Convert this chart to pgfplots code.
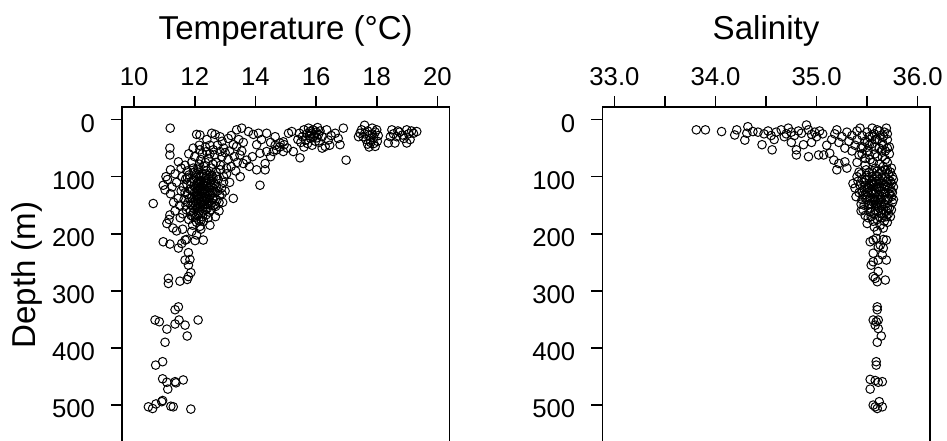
\documentclass[border=0pt]{standalone}
\usepackage{fontspec}
\setmainfont{Liberation Sans}
\usepackage{pgfplots}
\usepackage{pgfplotstable}
\pgfplotsset{compat=1.18}

\pgfplotstableread[row sep=\\]{
T D\\
11.19 15\\ 12.06 26\\ 12.17 27\\ 12.56 24\\ 12.67 26\\ 12.83 30\\ 13.38 18\\ 13.55 15\\ 13.77 21\\ 13.93 26\\
14.10 24\\ 14.37 24\\ 14.65 30\\ 14.92 39\\ 15.09 24\\ 12.9 38\\ 13.1 33\\ 13.45 35\\ 13.6 40\\ 12.4 35\\ 14.2 35\\ 14.5 40\\ 13.2 28\\
11.18 50\\ 11.18 62\\ 11.46 74\\ 11.68 80\\ 12.17 53\\ 12.39 56\\ 12.61 53\\ 12.83 56\\ 13.27 44\\ 13.38 47\\
13.49 62\\ 13.71 71\\ 13.6 77\\ 14.04 44\\ 14.15 59\\ 14.37 56\\ 14.59 56\\ 14.7 53\\ 14.92 56\\ 14.04 88\\
14.32 88\\ 14.32 77\\ 14.15 115\\ 13.27 138\\ 12.0 65\\ 12.2 70\\ 12.45 68\\ 12.7 75\\ 12.9 65\\ 13.1 70\\
13.2 82\\ 12.55 85\\ 12.85 88\\ 13.05 95\\ 13.35 90\\ 12.3 82\\ 11.9 75\\ 12.1 85\\ 13.5 100\\ 13.15 110\\
12.95 100\\ 13.8 82\\ 12.65 62\\ 13.0 58\\ 12.25 60\\ 11.8 60\\ 11.55 85\\ 11.35 95\\ 11.2 88\\ 11.05 100\\
13.55 55\\ 13.9 65\\ 14.5 65\\ 14.8 48\\ 15.05 50\\ 15.25 56\\ 15.47 67\\ 14.81 41\\ 14.95 44\\ 14.65 45\\
11.95 50\\ 12.15 45\\ 12.35 48\\ 12.5 45\\ 12.75 45\\ 12.95 50\\ 13.15 55\\ 13.3 65\\ 12.05 95\\ 12.4 98\\
12.7 92\\ 12.85 80\\ 12.6 78\\ 12.35 75\\ 12.15 78\\ 11.95 85\\ 11.75 90\\ 13.05 85\\ 13.4 75\\ 12.5 60\\
11.62 118\\ 11.70 104\\ 11.75 131\\ 11.78 145\\ 11.81 97\\ 11.84 122\\ 11.86 160\\ 11.88 109\\ 11.90 137\\ 11.92 151\\
11.95 93\\ 11.97 116\\ 11.99 128\\ 12.01 142\\ 12.02 171\\ 12.04 101\\ 12.05 134\\ 12.07 156\\ 12.08 112\\ 12.10 124\\
12.11 147\\ 12.12 165\\ 12.14 96\\ 12.15 139\\ 12.16 119\\ 12.18 130\\ 12.19 153\\ 12.20 107\\ 12.21 176\\ 12.23 126\\
12.24 143\\ 12.25 113\\ 12.27 160\\ 12.28 135\\ 12.30 99\\ 12.31 121\\ 12.33 149\\ 12.34 130\\ 12.36 108\\ 12.37 167\\
12.39 140\\ 12.40 117\\ 12.42 155\\ 12.44 127\\ 12.46 104\\ 12.47 145\\ 12.49 133\\ 12.51 114\\ 12.53 158\\ 12.55 124\\
12.57 98\\ 12.59 139\\ 12.62 110\\ 12.64 150\\ 12.67 128\\ 12.70 117\\ 12.73 141\\ 12.77 105\\ 12.82 132\\ 12.88 120\\
11.65 140\\ 11.72 158\\ 11.80 175\\ 11.93 185\\ 12.06 180\\ 12.17 187\\ 12.29 178\\ 11.88 168\\ 12.00 92\\ 12.12 88\\
12.26 94\\ 12.38 90\\ 12.50 95\\ 12.60 102\\ 12.95 110\\ 13.0 125\\ 12.92 145\\ 12.80 160\\ 12.68 170\\ 11.55 125\\
11.50 150\\ 11.58 100\\ 11.45 138\\ 11.40 110\\ 11.60 165\\ 11.52 172\\ 12.09 121\\ 12.13 133\\ 12.22 117\\ 12.32 143\\
12.18 100\\ 12.03 150\\ 11.96 162\\ 12.44 172\\ 12.41 111\\ 12.56 146\\
11.74 113\\ 11.83 138\\ 11.91 125\\ 11.98 104\\ 12.03 118\\ 12.06 146\\ 12.09 131\\ 12.13 108\\ 12.16 160\\ 12.19 122\\
12.22 137\\ 12.26 150\\ 12.29 115\\ 12.32 128\\ 12.35 102\\ 12.38 135\\ 12.41 148\\ 12.45 120\\ 12.48 162\\ 12.52 131\\
12.58 119\\ 12.63 137\\ 12.69 152\\ 12.75 125\\ 11.87 150\\ 11.94 170\\ 12.0 135\\ 12.07 168\\ 12.14 177\\ 12.25 170\\
12.35 157\\ 12.43 138\\ 12.54 108\\ 12.66 113\\ 12.72 99\\ 11.76 102\\ 11.68 128\\ 11.71 150\\ 12.1 140\\ 12.2 145\\
12.3 110\\ 12.4 124\\ 12.05 126\\ 12.27 124\\ 12.17 113\\ 11.95 145\\ 12.5 150\\ 12.6 128\\ 12.8 145\\ 12.9 130\\
10.96 115\\ 11.02 123\\ 11.1 105\\ 11.2 130\\ 11.25 118\\ 11.3 145\\ 11.35 160\\ 11.15 175\\ 11.18 167\\ 11.08 182\\
11.28 190\\ 10.63 147\\ 11.4 195\\ 11.6 192\\ 11.9 196\\ 12.2 192\\ 12.5 185\\
15.2 21\\ 15.45 24\\ 15.55 30\\ 15.6 18\\ 15.65 36\\ 15.7 25\\ 15.72 42\\ 15.75 15\\ 15.78 28\\ 15.8 21\\
15.82 33\\ 15.85 24\\ 15.87 45\\ 15.9 18\\ 15.92 30\\ 15.95 27\\ 15.98 38\\ 16.0 22\\ 16.03 32\\ 16.05 14\\
16.08 26\\ 16.1 40\\ 16.13 20\\ 16.2 30\\ 15.5 40\\ 15.6 48\\ 16.35 18\\ 16.63 24\\ 16.9 15\\ 16.73 33\\
16.79 44\\ 16.4 36\\ 16.3 47\\ 16.99 71\\ 16.5 28\\ 16.45 45\\ 16.2 50\\ 15.4 35\\
17.6 10\\ 18.0 18\\ 17.45 24\\ 17.78 36\\ 17.95 47\\ 17.5 18\\ 17.7 20\\ 17.75 28\\ 17.85 25\\ 17.9 32\\
17.8 40\\ 17.7 43\\ 17.65 35\\ 17.55 30\\ 18.05 28\\ 17.95 22\\ 17.85 15\\ 17.75 48\\ 17.9 42\\ 18.02 38\\
17.6 25\\ 17.4 30\\
18.5 18\\ 18.66 30\\ 18.99 18\\ 19.21 24\\ 19.32 21\\ 18.99 41\\ 18.38 41\\ 18.6 41\\ 18.55 25\\ 18.75 22\\
18.85 27\\ 18.9 33\\ 19.05 25\\ 19.15 20\\ 18.45 30\\ 19.1 35\\ 18.7 20\\
10.96 214\\ 11.18 218\\ 11.46 225\\ 11.57 217\\ 11.68 211\\ 12.01 212\\ 12.28 211\\ 12.06 202\\ 11.73 210\\
11.79 233\\ 11.68 246\\ 11.84 245\\ 11.79 255\\ 11.87 268\\ 11.13 278\\ 11.13 287\\ 11.51 283\\ 11.75 280\\ 11.79 275\\
11.35 333\\ 11.46 328\\ 10.69 351\\ 10.83 354\\ 11.08 367\\ 11.35 358\\ 11.48 351\\ 11.68 360\\ 11.75 379\\ 12.11 351\\
11.02 390\\ 10.71 430\\ 10.94 424\\ 10.94 454\\ 11.08 460\\ 11.35 459\\ 11.38 461\\ 11.62 456\\ 11.11 472\\
10.47 503\\ 10.61 506\\ 10.72 498\\ 10.91 494\\ 10.94 492\\ 11.21 502\\ 11.29 503\\ 11.87 507\\
}\tempdata

\pgfplotstableread[row sep=\\]{
S D\\
33.81 18\\ 33.90 18\\ 34.06 21\\ 34.21 18\\ 34.19 27\\ 34.32 12.5\\ 34.29 36\\ 34.31 24\\ 34.37 21\\ 34.46 44\\
34.56 53\\ 34.42 22\\ 34.48 25\\ 34.52 20\\ 34.55 28\\ 34.6 22\\ 34.65 18\\ 34.7 25\\ 34.72 15\\ 34.75 22\\
34.78 28\\ 34.82 20\\ 34.85 24\\ 34.9 9.5\\ 34.92 18\\ 34.95 26\\ 34.98 22\\ 35.0 30\\ 35.03 20\\ 35.06 25\\
34.68 30\\ 34.58 35\\ 34.8 53\\ 34.8 62\\ 34.92 65\\ 34.87 44\\ 34.75 40\\ 34.95 40\\ 35.02 62\\ 35.07 62\\
35.13 59\\ 35.17 71\\ 35.22 77\\ 35.2 88\\ 35.3 85\\ 35.28 74\\ 35.1 45\\ 35.15 35\\ 35.18 25\\ 35.2 18\\
35.22 40\\ 35.25 30\\ 35.28 50\\ 35.3 22\\ 35.32 38\\ 35.35 28\\ 35.35 55\\ 35.38 45\\ 35.4 20\\ 35.4 35\\
35.42 62\\ 35.43 15\\ 35.45 28\\ 35.46 48\\ 35.48 38\\ 35.5 22\\ 35.5 55\\ 35.52 30\\ 35.53 70\\ 35.55 15\\
35.55 42\\ 35.57 25\\ 35.58 60\\ 35.6 35\\ 35.6 18\\ 35.62 50\\ 35.63 28\\ 35.65 40\\ 35.65 65\\ 35.67 22\\
35.68 55\\ 35.69 15\\ 35.7 35\\ 35.7 75\\ 35.72 48\\ 35.48 80\\ 35.4 75\\
35.45 60\\ 35.52 45\\ 35.58 35\\ 35.62 20\\ 35.66 30\\ 35.7 25\\ 35.72 60\\ 35.68 70\\ 35.64 55\\ 35.6 65\\
35.56 75\\ 35.52 62\\ 35.48 68\\ 35.44 50\\ 35.58 48\\ 35.66 45\\ 35.7 50\\ 35.62 78\\ 35.55 30\\ 35.5 40\\
35.36 112\\ 35.38 120\\ 35.40 100\\ 35.42 128\\ 35.44 95\\ 35.45 140\\ 35.46 158\\ 35.47 110\\ 35.48 132\\ 35.49 88\\
35.50 120\\ 35.50 182\\ 35.51 150\\ 35.52 104\\ 35.53 137\\ 35.54 170\\ 35.55 92\\ 35.55 125\\ 35.56 145\\ 35.57 110\\
35.58 160\\ 35.58 130\\ 35.59 98\\ 35.60 118\\ 35.60 175\\ 35.61 140\\ 35.62 105\\ 35.62 155\\ 35.63 125\\ 35.64 90\\
35.64 165\\ 35.65 135\\ 35.66 112\\ 35.67 148\\ 35.68 100\\ 35.68 128\\ 35.69 170\\ 35.70 118\\ 35.70 140\\ 35.71 95\\
35.72 155\\ 35.72 130\\ 35.73 108\\ 35.74 125\\ 35.75 145\\ 35.75 100\\ 35.76 118\\ 35.74 85\\ 35.66 82\\ 35.58 85\\
35.52 120\\ 35.57 188\\ 35.63 185\\ 35.70 180\\ 35.43 115\\ 35.47 150\\ 35.53 162\\ 35.6 150\\ 35.65 102\\ 35.67 178\\
35.71 165\\ 35.62 95\\ 35.56 115\\ 35.49 140\\ 35.45 125\\ 35.41 108\\ 35.39 135\\ 35.44 160\\ 35.51 172\\ 35.59 108\\
35.64 140\\ 35.69 108\\ 35.73 170\\ 35.55 100\\ 35.61 122\\ 35.66 158\\ 35.57 140\\ 35.52 93\\ 35.68 88\\ 35.74 112\\
35.62 132\\ 35.58 118\\ 35.63 112\\ 35.54 128\\ 35.67 122\\ 35.71 138\\
35.42 92\\ 35.45 105\\ 35.47 122\\ 35.5 135\\ 35.52 148\\ 35.54 112\\ 35.56 128\\ 35.58 142\\ 35.6 100\\ 35.62 118\\
35.64 150\\ 35.66 128\\ 35.68 140\\ 35.7 155\\ 35.72 120\\ 35.74 135\\ 35.76 105\\ 35.73 92\\ 35.7 88\\ 35.6 90\\
35.55 108\\ 35.5 98\\ 35.48 115\\ 35.53 155\\ 35.57 165\\ 35.61 160\\ 35.65 172\\ 35.69 160\\ 35.63 145\\ 35.59 135\\
35.55 138\\ 35.51 128\\ 35.46 132\\ 35.44 148\\ 35.48 168\\ 35.56 178\\ 35.62 170\\ 35.66 190\\ 35.6 195\\ 35.64 118\\
35.68 115\\ 35.71 105\\ 35.75 128\\ 35.76 140\\ 35.74 158\\ 35.67 165\\ 35.58 150\\ 35.54 148\\ 35.52 115\\ 35.49 105\\
35.53 214\\ 35.56 211\\ 35.59 208\\ 35.66 210\\ 35.69 211\\ 35.63 220\\ 35.66 225\\ 35.65 237\\ 35.56 234\\ 35.61 223\\
35.56 249\\ 35.54 255\\ 35.61 246\\ 35.69 246\\ 35.61 266\\ 35.56 275\\ 35.58 278\\ 35.68 281\\ 35.6 284\\
35.6 328\\ 35.6 333\\ 35.56 351\\ 35.59 354\\ 35.61 351\\ 35.58 360\\ 35.61 366\\ 35.64 379\\ 35.6 390\\
35.59 424\\ 35.59 430\\ 35.53 455\\ 35.58 457\\ 35.61 460\\ 35.65 459\\ 35.53 472\\
35.56 500\\ 35.58 503\\ 35.6 506\\ 35.62 494\\ 35.65 503\\
}\saldata

\pgfplotsset{
  rpanel/.style={
    scale only axis,
    width=163.75bp, height=169.6bp,
    anchor=north west,
    y dir=reverse, ymin=-22, ymax=572,
    ytick={0,100,...,500},
    tick align=outside,
    xtick pos=upper, xticklabel pos=upper,
    ytick pos=left,
    major tick length=5.5bp,
    axis line style={line width=0.8bp},
    every tick/.style={line width=0.8bp, black},
    tick label style={font=\fontsize{12.9}{15}\selectfont},
    /pgf/number format/assume math mode=true,
    xticklabel style={anchor=base, yshift=5.5bp},
    yticklabel style={anchor=east, xshift=-4.5bp, yshift=-2bp},
    title style={at={(0.5,1)}, anchor=base, yshift=28bp, font=\fontsize{16.6}{19}\selectfont},
    clip=false,
    after end axis/.code={\draw[line width=0.8bp, black] (rel axis cs:0,1) -- (rel axis cs:1,1);},
  },
  rpts/.style={only marks, mark=o, mark size=2.15bp, mark options={line width=0.5bp, black}},
}

\begin{document}
\begin{tikzpicture}
\useasboundingbox (0,0) rectangle (473.5bp,-220.5bp);
\clip (0,0) rectangle (473.5bp,-220.5bp);
\begin{axis}[rpanel,
  at={(61bp,-53.5bp)},
  xmin=9.6, xmax=20.4,
  xtick={10,12,...,20},
  title={Temperature (°C)},
  ylabel={Depth (m)},
  ylabel style={at={(axis description cs:-0.29,0.505)}, rotate=0, anchor=center, font=\fontsize{16.6}{19}\selectfont},
]
\addplot[rpts] table[x=T, y=D] {\tempdata};
\end{axis}
\begin{axis}[rpanel,
  at={(301.15bp,-53.5bp)},
  xmin=32.88, xmax=36.12,
  xtick={33,33.5,...,36},
  xticklabels={33.0,,34.0,,35.0,,36.0},
  title={Salinity},
]
\addplot[rpts] table[x=S, y=D] {\saldata};
\end{axis}
\end{tikzpicture}
\end{document}
